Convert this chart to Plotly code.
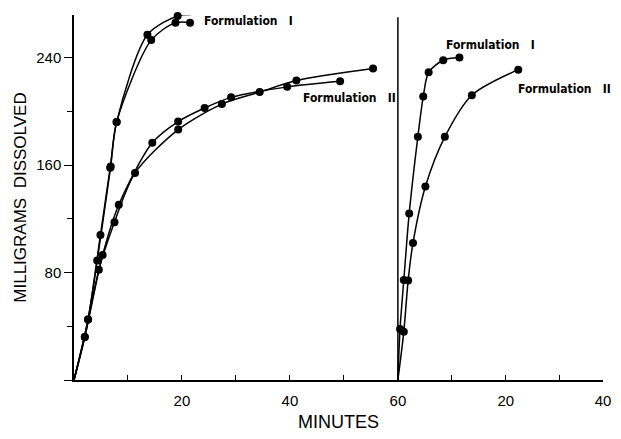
import plotly.graph_objects as go

# ---- data ----
# Left panel: minutes 0-60
f1a_t = [0, 2.6, 4.9, 6.7, 7.9, 13.6, 19.2, 21.7]
f1a_mg = [0, 45, 108, 158, 192, 257, 271, 272]
f1b_t = [0, 2.6, 4.3, 6.8, 7.9, 14.3, 18.8, 21.5]
f1b_mg = [0, 45, 89, 159, 192, 253, 266, 266]
f2a_t = [0, 2.0, 5.3, 8.3, 14.5, 19.3, 24.2, 29.1, 39.5, 49.3]
f2a_mg = [0, 32, 93, 130.5, 176.6, 192.4, 202.5, 210.4, 218.2, 222.4]
f2b_t = [0, 2.0, 4.6, 7.5, 11.3, 19.3, 27.4, 34.4, 41.2, 55.4]
f2b_mg = [0, 32, 82, 117.5, 154, 186.4, 205.4, 214.3, 222.9, 231.8]

# Right panel: second time scale starting at the 60-minute line
r_offset = 60
r1_t = [0, 0.4, 1.1, 2.1, 3.7, 4.7, 5.7, 8.4, 11.4]
r1_mg = [0, 38, 74.5, 124, 181, 211, 229, 238, 240]
r2_t = [0, 1.1, 1.9, 2.8, 5.1, 8.7, 13.7, 22.3]
r2_mg = [0, 36, 74, 102, 144, 181, 212, 231]

x_tickvals = [10, 20, 30, 40, 50, 60, 70, 80, 90, 98]
x_ticktext = ["", "20", "", "40", "", "60", "", "20", "", "40"]

labels = [
    ("Formulation\u00a0\u00a0\u00a0I", 23.7, 267.4),
    ("Formulation\u00a0\u00a0\u00a0II", 42.0, 209.7),
    ("Formulation\u00a0\u00a0\u00a0I", 68.6, 249.4),
    ("Formulation\u00a0\u00a0\u00a0II", 81.8, 216.9),
]

fig = go.Figure()

def add_curve(t, mg):
    sizes = [0] + [8] * (len(t) - 1)
    fig.add_trace(go.Scatter(
        x=t, y=mg, mode="lines+markers", opacity=1,
        line=dict(color="#000000", width=1.5, shape="spline", smoothing=0.8),
        marker=dict(color="#000000", size=sizes, opacity=1,
                    line=dict(width=0, color="#000000")),
        cliponaxis=False, showlegend=False, hoverinfo="skip"))

add_curve(f1a_t, f1a_mg)
add_curve(f1b_t, f1b_mg)
add_curve(f2a_t, f2a_mg)
add_curve(f2b_t, f2b_mg)
add_curve([r_offset + t for t in r1_t], r1_mg)
add_curve([r_offset + t for t in r2_t], r2_mg)

# panel divider
fig.add_shape(type="line", x0=r_offset, x1=r_offset, y0=0, y1=270,
              xref="x", yref="y", line=dict(color="black", width=1.5))

label_font = dict(family="Liberation Sans Narrow, DejaVu Sans Condensed, Roboto, Arial",
                  size=12, color="black", weight="bold")
for txt, x, y in labels:
    fig.add_annotation(x=x, y=y, text="<b>%s</b>" % txt, showarrow=False,
                       xanchor="left", yanchor="middle", font=label_font)

axis_font = dict(family="Liberation Sans, Arial, Helvetica", size=15, color="black")

fig.update_layout(
    width=621, height=439,
    margin=dict(l=74, r=10, t=15, b=47),
    paper_bgcolor="white", plot_bgcolor="white",
    xaxis=dict(range=[0, 98], showgrid=False, zeroline=False,
               showline=True, linecolor="black", linewidth=1.5,
               tickmode="array", tickvals=x_tickvals, ticktext=x_ticktext,
               ticks="inside", ticklen=5, tickcolor="black", tickwidth=1.2,
               tickfont=axis_font, ticklabelstandoff=6,
               title=dict(text="MINUTES", font=dict(family="Liberation Sans, Arial", size=18, color="black"),
                          standoff=8)),
    yaxis=dict(range=[0, 271.7], showgrid=False, zeroline=False,
               showline=True, linecolor="black", linewidth=1.5,
               tickmode="linear", tick0=0, dtick=80, labelalias={"0": ""},
               ticks="outside", ticklen=8, tickcolor="black", tickwidth=1.2,
               tickfont=axis_font,
               minor=dict(tick0=0, dtick=40, ticks="outside",
                          ticklen=5, tickcolor="black", tickwidth=1.2, showgrid=False),
               title=dict(text="MILLIGRAMS  DISSOLVED",
                          font=dict(family="Liberation Sans, Arial", size=17, color="black"),
                          standoff=5)),
)

fig.write_html("out.html")
